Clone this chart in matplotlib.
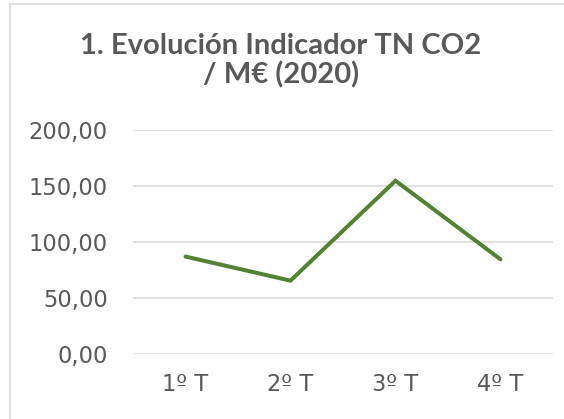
import matplotlib
matplotlib.use("Agg")
import matplotlib.pyplot as plt
from matplotlib.lines import Line2D
from matplotlib.ticker import FuncFormatter

# Data
quarters = ["1º T", "2º T", "3º T", "4º T"]
co2_per_meur = [87.0, 65.5, 154.7, 84.5]
title_lines = ["1. Evolución Indicador TN CO2", "/ M€ (2020)"]

W, H = 564, 419
fig = plt.figure(figsize=(W / 100, H / 100), dpi=100)
plt.rcParams["font.family"] = ["DejaVu Sans"]

# chart frame: only the left and top edges show in the crop
frame = dict(color="#d9d9d9", linewidth=1.2, transform=fig.transFigure)
fig.add_artist(Line2D([9.5 / W, 9.5 / W], [0, 1 - 4.5 / H], **frame))
fig.add_artist(Line2D([9.5 / W, 1], [1 - 4.5 / H, 1 - 4.5 / H], **frame))

# plot area: x 133..553, y 130..354 (pixels from top)
ax = fig.add_axes([133 / W, 1 - 354 / H, 420 / W, 224 / H])
x = range(len(quarters))
ax.plot(x, co2_per_meur, color="#548235", linewidth=2.9, solid_capstyle="round",
        solid_joinstyle="miter")
ax.set_xlim(-0.5, len(quarters) - 0.5)
ax.set_ylim(0, 200)
ax.set_yticks([0, 50, 100, 150, 200])
ax.yaxis.set_major_formatter(FuncFormatter(lambda v, _: f"{v:.2f}".replace(".", ",")))
ax.set_xticks(list(x), quarters)
ax.grid(axis="y", color="#d9d9d9", linewidth=1.1)
ax.set_axisbelow(True)
for s in ax.spines.values():
    s.set_visible(False)
ax.tick_params(length=0, labelsize=16.3, labelcolor="#595959")
ax.tick_params(axis="y", pad=18)
ax.tick_params(axis="x", pad=14)

# two title lines, baselines at ~53 and ~83 px from top
for line, base in zip(title_lines, [53.5, 83.5]):
    fig.text(281 / W, 1 - base / H, line, ha="center", va="baseline", fontsize=21,
             fontweight="bold", color="#595959", family=["Lato", "DejaVu Sans"])

fig.savefig("out.png", dpi=100)
